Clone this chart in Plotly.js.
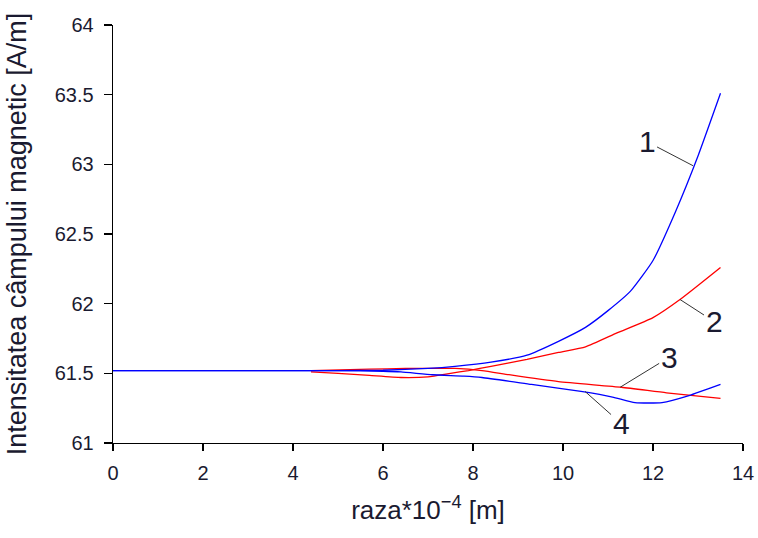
<!DOCTYPE html>
<html>
<head>
<meta charset="utf-8">
<script src="https://cdn.plot.ly/plotly-3.0.1.min.js"></script>
<style>html,body{margin:0;padding:0;background:#fff;}#chart{width:758px;height:538px;}</style>
</head>
<body>
<div id="chart"></div>
<script>
// Curve 1 (blue, rising)
const x1 = [0, 1, 2, 3, 4, 5, 6, 7, 7.6, 8.4, 9.2, 9.9, 10.5, 11, 11.5, 12, 12.5, 13, 13.5];
const y1 = [61.52, 61.52, 61.52, 61.52, 61.52, 61.52, 61.522, 61.535, 61.55, 61.58, 61.63, 61.73, 61.83, 61.95, 62.09, 62.31, 62.66, 63.06, 63.51];
// Curve 2 (red, rising)
const x2 = [4.4, 5, 5.7, 6.4, 7, 7.5, 7.9, 8.4, 9.2, 9.9, 10.5, 11.2, 12, 12.6, 13.5];
const y2 = [61.51, 61.50, 61.485, 61.47, 61.475, 61.50, 61.52, 61.55, 61.60, 61.65, 61.69, 61.79, 61.90, 62.03, 62.26];
// Curve 3 (red, falling)
const x3 = [4.4, 5.7, 6.5, 7, 7.6, 8.2, 8.8, 9.9, 11.3, 12.3, 13.5];
const y3 = [61.52, 61.53, 61.535, 61.535, 61.535, 61.52, 61.49, 61.44, 61.40, 61.36, 61.32];
// Curve 4 (blue, dips then rises)
const x4 = [0, 1, 2, 3, 4, 5, 6, 6.4, 7.1, 7.8, 8.2, 9.3, 10.4, 11.1, 11.6, 12.2, 12.8, 13.5];
const y4 = [61.52, 61.52, 61.52, 61.52, 61.52, 61.52, 61.515, 61.51, 61.49, 61.48, 61.47, 61.42, 61.37, 61.33, 61.29, 61.29, 61.34, 61.42];

const curveLabels = ['1', '2', '3', '4'];
const labelPointX = [12.89, 12.6, 11.27, 10.49];
const labelPointY = [62.99, 62.03, 61.40, 61.37];
const labelOffX = [-46, 34, 49, 36];
const labelOffY = [-24, 22, -30, 32];

const xTicks = [0, 2, 4, 6, 8, 10, 12, 14];
const yTicks = [61, 61.5, 62, 62.5, 63, 63.5, 64];

const lineW = 1.3;
const sm = 0.5;
const traces = [
  {x: x2, y: y2, mode: 'lines', line: {color: '#ff0000', width: lineW, shape: 'spline', smoothing: sm}},
  {x: x3, y: y3, mode: 'lines', line: {color: '#ff0000', width: lineW, shape: 'spline', smoothing: sm}},
  {x: x1, y: y1, mode: 'lines', line: {color: '#0000ff', width: lineW, shape: 'spline', smoothing: sm}},
  {x: x4, y: y4, mode: 'lines', line: {color: '#0000ff', width: lineW, shape: 'spline', smoothing: sm}}
];

const font = 'Liberation Sans, Arial, sans-serif';
const txt = '#1a1a30';
const annotations = curveLabels.map((t, i) => ({
  x: labelPointX[i], y: labelPointY[i], xref: 'x', yref: 'y',
  text: t, showarrow: true, arrowhead: 0, arrowwidth: 1, arrowcolor: '#333',
  ax: labelOffX[i], ay: labelOffY[i], standoff: 0, startstandoff: 0,
  font: {family: font, size: 30, color: txt}
}));

const layout = {
  width: 758, height: 538,
  margin: {l: 113, r: 15, t: 25, b: 95},
  paper_bgcolor: '#fff', plot_bgcolor: '#fff',
  showlegend: false,
  font: {family: font, color: txt},
  xaxis: {
    range: [0, 14], tickvals: xTicks, ticktext: xTicks.map(String),
    showgrid: false, zeroline: false, showline: true, linecolor: '#000', linewidth: 1.3,
    ticks: 'outside', ticklen: 7, tickcolor: '#000', tickwidth: 1.3,
    tickfont: {size: 20, family: font, color: txt}, ticklabelstandoff: 5,
    title: {text: 'raza*10<sup>−4</sup> [m]', font: {size: 26, family: font, color: txt}, standoff: 17}
  },
  yaxis: {
    range: [61, 64], tickvals: yTicks, ticktext: yTicks.map(String),
    showgrid: false, zeroline: false, showline: true, linecolor: '#000', linewidth: 1.3,
    ticks: 'outside', ticklen: 8, tickcolor: '#000', tickwidth: 1.3,
    tickfont: {size: 20, family: font, color: txt}, ticklabelstandoff: 6,
    title: {text: 'Intensitatea câmpului magnetic [A/m]', font: {size: 27, family: font, color: txt}, standoff: 20}
  },
  annotations: annotations
};

Plotly.newPlot('chart', traces, layout, {displayModeBar: false, staticPlot: true});
</script>
</body>
</html>
